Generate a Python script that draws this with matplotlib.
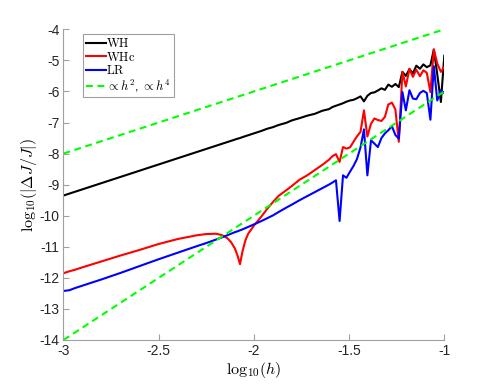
import matplotlib
matplotlib.use("Agg")
import matplotlib.pyplot as plt

plt.rcParams['mathtext.fontset'] = 'cm'
plt.rcParams['font.family'] = ['Liberation Sans', 'DejaVu Sans']
plt.rcParams['axes.unicode_minus'] = False

# sample positions, log10(h)
log_h = [-3.00, -2.97, -2.94, -2.90, -2.80, -2.70, -2.60, -2.50, -2.40, -2.30,
         -2.25, -2.20, -2.17, -2.14, -2.12, -2.10, -2.085, -2.073, -2.06, -2.045,
         -2.03, -2.00, -1.96, -1.93, -1.90, -1.87, -1.83, -1.80, -1.76, -1.72,
         -1.68, -1.64, -1.606, -1.587, -1.569, -1.550, -1.532, -1.514, -1.495, -1.477,
         -1.459, -1.440, -1.422, -1.404, -1.385, -1.367, -1.349, -1.330, -1.312, -1.294,
         -1.275, -1.257, -1.239, -1.220, -1.202, -1.183, -1.165, -1.147, -1.128, -1.110,
         -1.092, -1.073, -1.055, -1.037, -1.018, -1.000]

err_wh = [-9.35, -9.29, -9.23, -9.15, -8.95, -8.75, -8.55, -8.35, -8.15, -7.95,
          -7.85, -7.75, -7.69, -7.63, -7.59, -7.55, -7.52, -7.50, -7.47, -7.44,
          -7.41, -7.35, -7.27, -7.20, -7.15, -7.08, -7.01, -6.93, -6.86, -6.78,
          -6.72, -6.62, -6.57, -6.50, -6.46, -6.42, -6.38, -6.33, -6.29, -6.27,
          -6.22, -6.16, -6.32, -6.14, -6.05, -6.03, -5.97, -5.90, -5.95, -5.78,
          -5.85, -5.76, -5.86, -5.37, -5.50, -5.28, -5.42, -5.17, -5.27, -5.13,
          -5.22, -5.16, -4.65, -5.45, -6.34, -4.85]

err_whc = [-11.85, -11.79, -11.74, -11.66, -11.47, -11.28, -11.10, -10.91, -10.75, -10.63,
           -10.59, -10.58, -10.62, -10.72, -10.85, -11.05, -11.30, -11.56, -11.15, -10.80,
           -10.58, -10.32, -10.02, -9.78, -9.56, -9.36, -9.18, -9.04, -8.84, -8.70,
           -8.53, -8.36, -8.20, -8.08, -8.02, -8.27, -7.79, -7.84, -7.80, -7.62,
           -7.45, -7.30, -6.61, -7.45, -7.04, -6.87, -6.92, -6.95, -6.82, -6.42,
           -6.36, -6.58, -7.62, -5.37, -5.84, -5.27, -5.53, -5.30, -5.51, -5.32,
           -5.40, -6.02, -4.65, -5.10, -5.37, -5.21]

err_lr = [-12.42, -12.40, -12.33, -12.25, -12.05, -11.84, -11.62, -11.40, -11.19, -10.98,
          -10.88, -10.77, -10.70, -10.63, -10.58, -10.53, -10.50, -10.47, -10.44, -10.40,
          -10.36, -10.28, -10.17, -10.08, -9.99, -9.88, -9.74, -9.64, -9.50, -9.37,
          -9.24, -9.11, -9.00, -8.93, -8.86, -10.17, -8.70, -8.78, -8.58, -8.40,
          -8.18, -7.80, -7.22, -8.70, -7.57, -7.68, -7.79, -7.50, -7.35, -7.25,
          -7.12, -7.40, -7.52, -6.02, -6.61, -5.96, -6.23, -6.25, -6.05, -5.98,
          -6.05, -6.91, -5.19, -6.29, -5.96, -6.05]

# reference slopes (end points)
ref_x = [-3.0, -1.0]
ref_h2 = [-8.0, -4.0]
ref_h4 = [-14.0, -6.0]

fig = plt.figure(figsize=(4.91, 3.84), dpi=100)
ax = fig.add_axes([0.1293, 0.1146, 0.7756, 0.8091])

lw = 1.5
ax.plot(log_h, err_wh, color='black', lw=lw, label=r'$\mathrm{WH}$')
ax.plot(log_h, err_whc, color='red', lw=lw, label=r'$\mathrm{WHc}$')
ax.plot(log_h, err_lr, color='blue', lw=lw, label=r'$\mathrm{LR}$')
ax.plot(ref_x, ref_h2, color='#00ff00', lw=lw, dashes=(3.3, 2.2),
        label=r'$\propto h^2$, $\propto h^4$')
ax.plot(ref_x, ref_h4, color='#00ff00', lw=lw, dashes=(3.3, 2.2))

ax.set_xlim(-3, -1)
ax.set_ylim(-14, -4)
xt = [-3, -2.5, -2, -1.5, -1]
ax.set_xticks(xt)
ax.set_xticklabels(['-3', '-2.5', '-2', '-1.5', '-1'])
ax.set_yticks(range(-14, -3))
ax.set_yticklabels([str(v) for v in range(-14, -3)])

for s in ['top', 'right']:
    ax.spines[s].set_visible(False)
for s in ['left', 'bottom']:
    ax.spines[s].set_color('#a0a0a0')
    ax.spines[s].set_linewidth(0.8)
ax.tick_params(direction='in', length=4, width=0.8, color='#a0a0a0',
               labelsize=10, labelcolor='#262626', pad=3)

ax.set_xlabel(r'$\mathrm{log}_{10}(h)$', fontsize=11.5, labelpad=1)
ax.set_ylabel(r'$\mathrm{log}_{10}(|\Delta J/J|)$', fontsize=11.5, labelpad=0)

leg = ax.legend(loc='upper left', bbox_to_anchor=(0.05, 0.985), fontsize=9,
                fancybox=False, framealpha=1, edgecolor='#a0a0a0',
                handlelength=1.6, handletextpad=0.05, borderpad=0.25,
                labelspacing=0.05, borderaxespad=0)
leg.get_frame().set_linewidth(0.8)

fig.savefig('out.png', dpi=100)
